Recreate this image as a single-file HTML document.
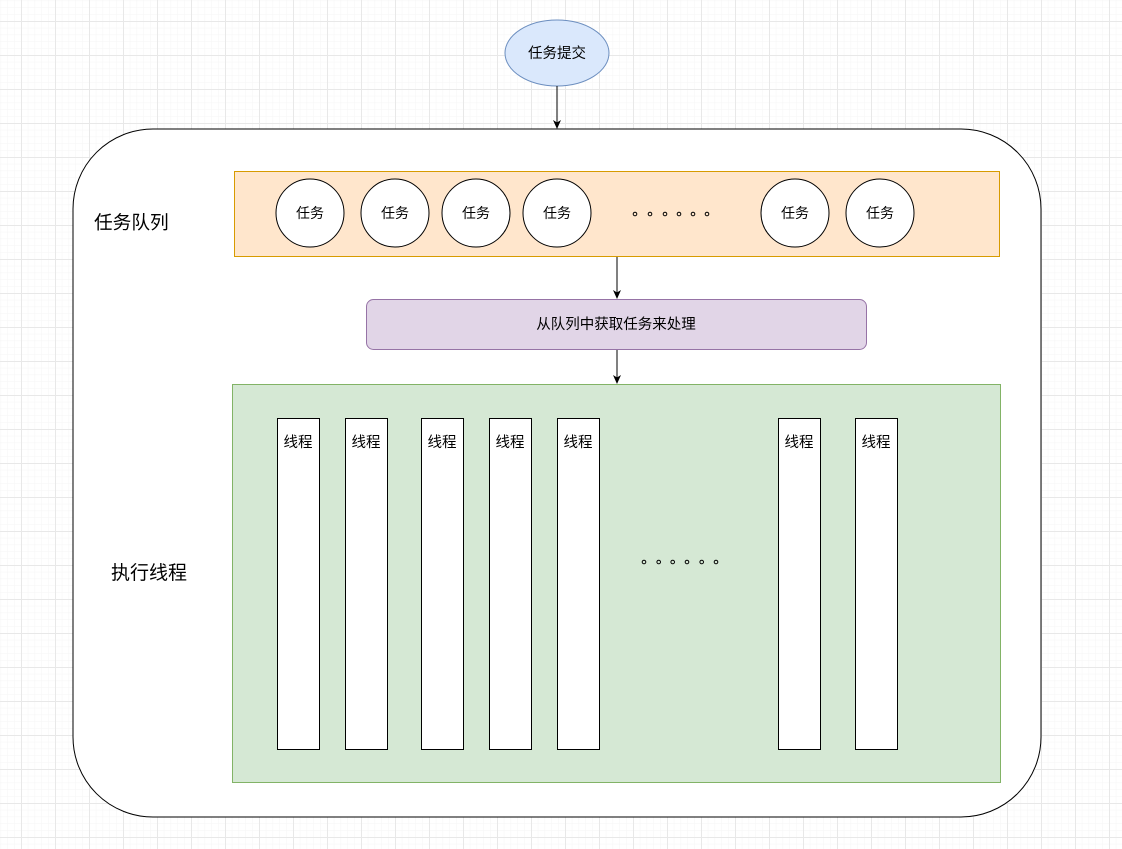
<!DOCTYPE html>
<html><head><meta charset="utf-8"><style>
html,body{margin:0;padding:0;width:1122px;height:849px;overflow:hidden;background:#fff}
svg{display:block}
text{font-family:"Liberation Sans","Noto Sans CJK SC",sans-serif;fill:#000}
</style></head><body>
<svg width="1122" height="849" viewBox="0 0 1122 849" xmlns="http://www.w3.org/2000/svg">
<defs>
<pattern id="minor" x="21" y="21" width="6.8" height="6.8" patternUnits="userSpaceOnUse">
<path d="M0 0H6.8M0 0V6.8" stroke="#f5f5f5" stroke-width="1" fill="none"/>
</pattern>
<pattern id="major" x="21" y="21" width="34" height="34" patternUnits="userSpaceOnUse">
<path d="M0 0.5H34M0.5 0V34" stroke="#e8e8e8" stroke-width="1" fill="none"/>
</pattern>
<marker id="ah" markerWidth="10" markerHeight="10" refX="8" refY="5" orient="auto" markerUnits="userSpaceOnUse">
<path d="M0 1L9 5L0 9L2.5 5Z" fill="#000"/>
</marker>
</defs>
<rect width="1122" height="849" fill="url(#minor)"/>
<rect width="1122" height="849" fill="url(#major)"/>

<ellipse cx="557" cy="53" rx="52" ry="33" fill="#dae8fc" stroke="#6c8ebf"/>
<text x="557" y="58" font-size="14.5" text-anchor="middle">任务提交</text>
<line x1="557" y1="86" x2="557" y2="128" stroke="#000" marker-end="url(#ah)"/>

<rect x="73" y="129" width="968" height="688" rx="80" ry="80" fill="#fff" stroke="#000"/>
<text x="94" y="229" font-size="18.7">任务队列</text>
<text x="111" y="579" font-size="19">执行线程</text>

<rect x="234.5" y="171.5" width="765" height="85" fill="#ffe6cc" stroke="#d79b00"/>
<g fill="#fff" stroke="#000">
<circle cx="310" cy="213" r="34"/><circle cx="395" cy="213" r="34"/>
<circle cx="476" cy="213" r="34"/><circle cx="557" cy="213" r="34"/>
<circle cx="795" cy="213" r="34"/><circle cx="880" cy="213" r="34"/>
</g>
<g font-size="14" text-anchor="middle">
<text x="310" y="218">任务</text><text x="395" y="218">任务</text>
<text x="476" y="218">任务</text><text x="557" y="218">任务</text>
<text x="795" y="218">任务</text><text x="880" y="218">任务</text>
</g>
<g fill="none" stroke="#000" stroke-width="1">
<circle cx="635" cy="214" r="1.8"/><circle cx="650" cy="214" r="1.8"/><circle cx="665" cy="214" r="1.8"/>
<circle cx="679" cy="214" r="1.8"/><circle cx="693" cy="214" r="1.8"/><circle cx="707" cy="214" r="1.8"/>
</g>

<line x1="617" y1="257" x2="617" y2="298" stroke="#000" marker-end="url(#ah)"/>
<rect x="366.5" y="299.5" width="500" height="50" rx="7" fill="#e1d5e7" stroke="#9673a6"/>
<text x="616" y="329" font-size="14.5" text-anchor="middle">从队列中获取任务来处理</text>
<line x1="617" y1="350" x2="617" y2="383" stroke="#000" marker-end="url(#ah)"/>

<rect x="232.5" y="384.5" width="768" height="398" fill="#d5e8d4" stroke="#82b366"/>
<g fill="#fff" stroke="#000">
<rect x="277.5" y="418.5" width="42" height="331"/>
<rect x="345.5" y="418.5" width="42" height="331"/>
<rect x="421.5" y="418.5" width="42" height="331"/>
<rect x="489.5" y="418.5" width="42" height="331"/>
<rect x="557.5" y="418.5" width="42" height="331"/>
<rect x="778.5" y="418.5" width="42" height="331"/>
<rect x="855.5" y="418.5" width="42" height="331"/>
</g>
<g font-size="14.5" text-anchor="middle">
<text x="298" y="447">线程</text><text x="366" y="447">线程</text>
<text x="442" y="447">线程</text><text x="510" y="447">线程</text>
<text x="578" y="447">线程</text><text x="799" y="447">线程</text>
<text x="876" y="447">线程</text>
</g>
<g fill="none" stroke="#000" stroke-width="1">
<circle cx="644" cy="562" r="1.8"/><circle cx="658.7" cy="562" r="1.8"/><circle cx="672.7" cy="562" r="1.8"/>
<circle cx="687" cy="562" r="1.8"/><circle cx="701.7" cy="562" r="1.8"/><circle cx="716" cy="562" r="1.8"/>
</g>
</svg>
</body></html>
